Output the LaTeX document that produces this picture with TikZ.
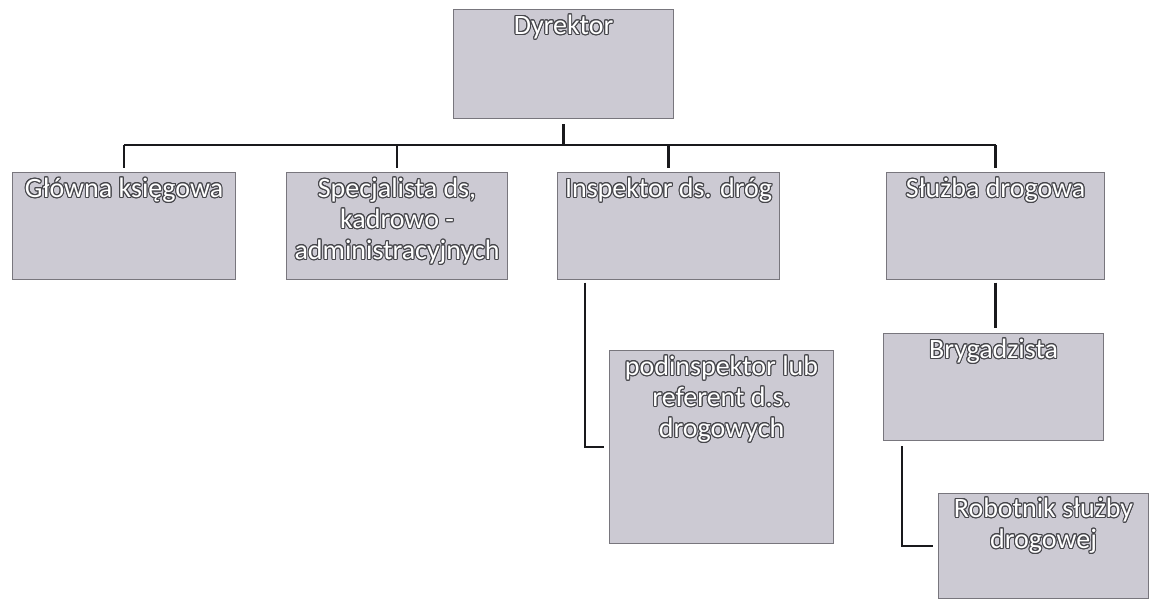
\documentclass[tikz,border=0pt]{standalone}
\usepackage{fontspec}
\setmainfont{Carlito}
\usepackage{contour}
\contourlength{0.75pt}
\usetikzlibrary{calc}
\definecolor{boxfill}{RGB}{204,202,211}
\definecolor{boxline}{RGB}{120,118,125}
\definecolor{conn}{RGB}{25,25,28}
\definecolor{outl}{RGB}{70,70,75}
\newcommand\ct[1]{\contour{outl}{\strut #1}}
\begin{document}
\begin{tikzpicture}[x=0.75pt,y=-0.75pt,
  box/.style={draw=boxline, fill=boxfill, line width=0.8pt, inner sep=0pt, anchor=north west},
  sz/.style 2 args={minimum width=#1*0.75pt, minimum height=#2*0.75pt},
  lbl/.style={text=white, font=\fontsize{21}{21.5}\selectfont, align=center, inner sep=0pt, anchor=north},
  link/.style={draw=conn, line width=1.6pt}]
\fill[white] (0,0) rectangle (1149,601);
\useasboundingbox (0,0) rectangle (1149,601);

% boxes
\node[box, sz={220}{109}] (dyr) at (453,9) {};
\node[box, sz={223}{107}] (gl)  at (12,172) {};
\node[box, sz={221}{107}] (sp)  at (286,172) {};
\node[box, sz={222}{107}] (in)  at (557,172) {};
\node[box, sz={218}{107}] (sl)  at (886,172) {};
\node[box, sz={224}{193}] (pod) at (609,350) {};
\node[box, sz={220}{107}] (bry) at (883,333) {};
\node[box, sz={210}{105}] (rob) at (938,493) {};

% labels
\node[lbl] (tdyr) at ($(dyr.north)+(0,5)$) {\ct{Dyrektor}};
\node[lbl] (tgl)  at ($(gl.north)+(0,5)$)  {\ct{Główna księgowa}};
\node[lbl] (tsp)  at ($(sp.north)+(0,5)$)  {\ct{Specjalista ds,}\\\ct{kadrowo -}\\\ct{administracyjnych}};
\node[lbl] (tin)  at ($(in.north)+(0,5)$)  {\ct{Inspektor ds. dróg}};
\node[lbl] (tsl)  at ($(sl.north)+(0,5)$)  {\ct{Służba drogowa}};
\node[lbl] (tpod) at ($(pod.north)+(0,5)$) {\ct{podinspektor lub}\\\ct{referent d.s.}\\\ct{drogowych}};
\node[lbl] (tbry) at ($(bry.north)+(0,5)$) {\ct{Brygadzista}};
\node[lbl] (trob) at ($(rob.north)+(0,4)$) {\ct{Robotnik służby}\\\ct{drogowej}};

% connectors
\coordinate (bar) at (0,145);
\draw[link, shorten <=4pt] (dyr.south) -- (dyr.south |- bar);
\draw[link] (gl.north |- bar) -- (sl.north |- bar);
\draw[link, shorten >=3pt] (gl.north |- bar) -- (gl.north);
\draw[link, shorten >=3pt] (sp.north |- bar) -- (sp.north);
\draw[link, shorten >=3pt] (in.north |- bar) -- (in.north);
\draw[link, shorten >=3pt] (sl.north |- bar) -- (sl.north);
\coordinate (inb) at ($(in.south west)+(28,0)$);
\draw[link, shorten <=2pt, shorten >=4pt] (inb) |- (pod.west);
\draw[link, shorten <=2pt, shorten >=4pt] (sl.south) -- (sl.south |- bry.north);
\coordinate (bryb) at ($(bry.south west)+(19,0)$);
\draw[link, shorten <=4pt, shorten >=4pt] (bryb) |- (rob.west);
\end{tikzpicture}
\end{document}
